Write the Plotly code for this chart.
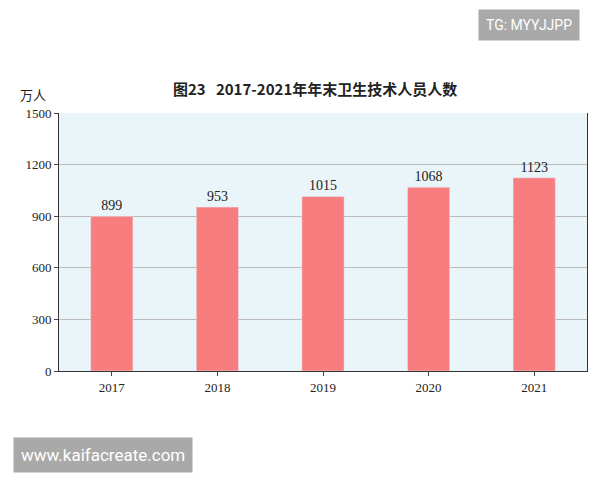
import plotly.graph_objects as go

years = ["2017", "2018", "2019", "2020", "2021"]
staff = [899, 953, 1015, 1068, 1123]
y_ticks = [0, 300, 600, 900, 1200, 1500]

serif = "Liberation Serif, DejaVu Serif, serif"
cjk = "Noto Sans CJK SC"

W, H = 600, 480
# the page draws the figure slightly offset; compensate
OX, OY = 6, 8
l, r, t, b = 57 - OX, 15 + OX, 113 - OY, 109 + OY
pw, ph = W - l - r, H - t - b


def px_note(text, x, y, **kw):
    # place an annotation by picture pixels
    return dict(text=text, x=(x - OX - l) / pw, y=(H - b - (y - OY)) / ph,
                xref="paper", yref="paper", xanchor="center", yanchor="middle",
                showarrow=False, **kw)


fig = go.Figure()
fig.add_trace(go.Bar(
    x=years, y=staff, width=0.4,
    marker_color="#f77d7e",
    text=[str(v) for v in staff], textposition="outside",
    textfont=dict(family=serif, size=14, color="#222"),
    cliponaxis=False,
))

fig.update_layout(
    width=W, height=H,
    margin=dict(l=l, r=r, t=t, b=b, autoexpand=False),
    paper_bgcolor="white",
    plot_bgcolor="#e9f5f9",
    showlegend=False,
    xaxis=dict(showline=True, linecolor="#333", ticks="outside", ticklen=4,
               tickfont=dict(family=serif, size=13, color="#222")),
    yaxis=dict(range=[0, 1500], tickvals=y_ticks, showgrid=True,
               gridcolor="#bbbbbb", showline=True, linecolor="#333",
               mirror=True, ticks="outside", ticklen=4, zeroline=False,
               tickfont=dict(family=serif, size=13, color="#222")),
    annotations=[
        px_note("<b>图23   2017-2021年年末卫生技术人员人数</b>", 313, 88,
                font=dict(family=cjk, size=15, color="#222")),
        px_note("万人", 31, 94, font=dict(family=cjk, size=13, color="#222")),
        px_note("TG: MYYJJPP", 527, 25, bgcolor="#a9a9a9", borderpad=7,
                font=dict(family="Roboto", size=14, color="white")),
        px_note("www.kaifacreate.com", 101, 455, bgcolor="#a9a9a9", borderpad=7,
                font=dict(family="Roboto", size=17, color="white")),
    ],
)

fig.write_html("out.html")
